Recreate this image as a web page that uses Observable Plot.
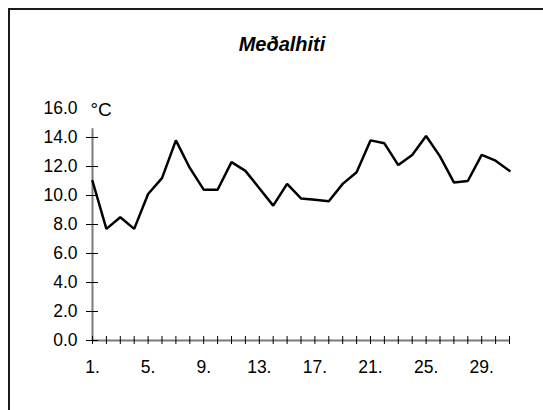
<!DOCTYPE html>
<html>
<head>
<meta charset="utf-8">
<script src="https://cdn.jsdelivr.net/npm/d3@7"></script>
<script src="https://cdn.jsdelivr.net/npm/@observablehq/plot@0.6"></script>
<style>
  html, body { margin: 0; padding: 0; background: #fff; overflow: hidden; }
  #wrap { position: relative; width: 543px; height: 410px; overflow: hidden; }
  #box { position: absolute; left: 8px; top: 8px; width: 600px; height: 500px; border: 2px solid #1a1a1a; box-sizing: border-box; }
  #title { position: absolute; left: 0; width: 564px; top: 33px; text-align: center;
           font-family: "Liberation Sans", Arial, sans-serif; font-weight: bold; font-style: italic; font-size: 20px; }
  #chart { position: absolute; left: 0; top: 0; }
</style>
</head>
<body>
<div id="wrap">
  <div id="box"></div>
  <div id="chart"></div>
  <div id="title">Meðalhiti</div>
</div>
<script>
const days = d3.range(1, 32);
const temps = [11.0, 7.7, 8.5, 7.7, 10.1, 11.2, 13.8, 11.9, 10.4, 10.4,
               12.3, 11.7, 10.5, 9.3, 10.8, 9.8, 9.7, 9.6, 10.8, 11.6,
               13.8, 13.6, 12.1, 12.8, 14.1, 12.7, 10.9, 11.0, 12.8, 12.4, 11.7];
const yTickValues = [0, 2, 4, 6, 8, 10, 12, 14];
const yLabelValues = [0, 2, 4, 6, 8, 10, 12, 14, 16];
const xLabelValues = [1, 5, 9, 13, 17, 21, 25, 29];
const unitLabel = "°C";
const yAxisTop = 14.6;

const data = days.map((d, i) => ({day: d, temp: temps[i]}));

const chart = Plot.plot({
  width: 543,
  height: 410,
  marginLeft: 92,
  marginRight: 34,
  marginTop: 108,
  marginBottom: 70,
  style: {fontFamily: "'Liberation Sans', Arial, sans-serif", fontSize: "17.5px", color: "#000", background: "transparent"},
  x: {domain: [1, 31], axis: null},
  y: {domain: [0, 16], axis: null},
  marks: [
    Plot.ruleY([0], {stroke: "#7a7a7a", strokeWidth: 2}),
    Plot.ruleX([1], {y1: 0, y2: yAxisTop, stroke: "#7a7a7a", strokeWidth: 2}),
    Plot.axisY({ticks: yTickValues, tickSize: 6, tickFormat: () => "", label: null, stroke: "#000"}),
    Plot.axisY({ticks: yTickValues, tickSize: 6, dx: 6, tickFormat: () => "", label: null, stroke: "#000"}),
    Plot.axisY({ticks: yLabelValues, tickSize: 0, tickPadding: 15, tickFormat: d => d.toFixed(1), label: null, fill: "#000"}),
    Plot.axisX({ticks: days, tickSize: 4, tickFormat: () => "", label: null, stroke: "#000"}),
    Plot.axisX({ticks: days, tickSize: 4, dy: -4, tickFormat: () => "", label: null, stroke: "#000"}),
    Plot.axisX({ticks: xLabelValues, tickSize: 0, tickPadding: 20, tickFormat: d => d + ".", label: null, fill: "#000"}),
    Plot.text([unitLabel], {frameAnchor: "top-left", textAnchor: "start", lineAnchor: "middle", dx: -2, dy: 1, fontSize: 19, fill: "#000"}),
    Plot.line(data, {x: "day", y: "temp", stroke: "#000", strokeWidth: 2.5, strokeLinejoin: "miter"})
  ]
});
document.getElementById("chart").appendChild(chart);
</script>
</body>
</html>
